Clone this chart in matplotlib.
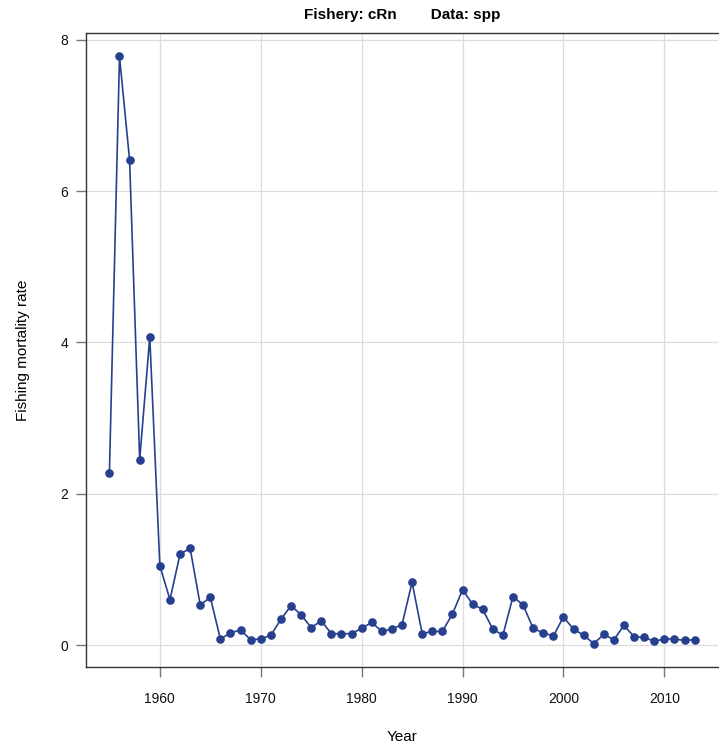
import matplotlib
matplotlib.use("Agg")
import matplotlib.pyplot as plt
import numpy as np

plt.rcParams['font.family'] = ['Liberation Sans', 'DejaVu Sans']

years = np.arange(1955, 2014)
fmort = [2.27, 7.78, 6.41, 2.45, 4.07, 1.05, 0.60, 1.20, 1.28, 0.53,
         0.63, 0.08, 0.16, 0.20, 0.07, 0.08, 0.13, 0.34, 0.52, 0.40,
         0.23, 0.32, 0.15, 0.15, 0.15, 0.22, 0.30, 0.18, 0.21, 0.27,
         0.83, 0.15, 0.18, 0.18, 0.41, 0.73, 0.54, 0.47, 0.21, 0.13,
         0.64, 0.53, 0.22, 0.16, 0.12, 0.37, 0.21, 0.13, 0.02, 0.14,
         0.07, 0.26, 0.11, 0.10, 0.05, 0.08, 0.08, 0.06, 0.07]
xticks = [1960, 1970, 1980, 1990, 2000, 2010]
yticks = [0, 2, 4, 6, 8]

fig = plt.figure(figsize=(7.19, 7.47), dpi=100)
ax = fig.add_axes([86 / 719, 80 / 747, 632 / 719, 634 / 747])

ax.plot(years, fmort, color='#27408e', lw=1.2, marker='o', ms=5.2, zorder=3)

# R-style 4% padding
pad_x = 0.04 * (years.max() - years.min())
pad_y = 0.04 * (max(fmort) - min(fmort))
ax.set_xlim(years.min() - pad_x, years.max() + pad_x)
ax.set_ylim(min(fmort) - pad_y, max(fmort) + pad_y)

ax.set_xticks(xticks)
ax.set_yticks(yticks)
ax.grid(True, color='#dcdcdc', lw=0.9, zorder=0)
ax.set_axisbelow(True)

for s in ['left', 'bottom', 'top']:
    ax.spines[s].set_color('#333333')
    ax.spines[s].set_linewidth(1.0)
ax.spines['right'].set_visible(False)
ax.tick_params(axis='both', direction='out', length=7, width=1, color='#777777',
               labelsize=10, labelcolor='#111111')
ax.tick_params(axis='x', pad=11)
ax.tick_params(axis='y', pad=6)

ax.set_xlabel('Year', fontsize=11, labelpad=17)
ax.set_ylabel('Fishing mortality rate', fontsize=11, labelpad=22)
ax.set_title('Fishery: cRn        Data: spp', fontsize=11, fontweight='bold', pad=10)

fig.savefig('out.png', dpi=100)
